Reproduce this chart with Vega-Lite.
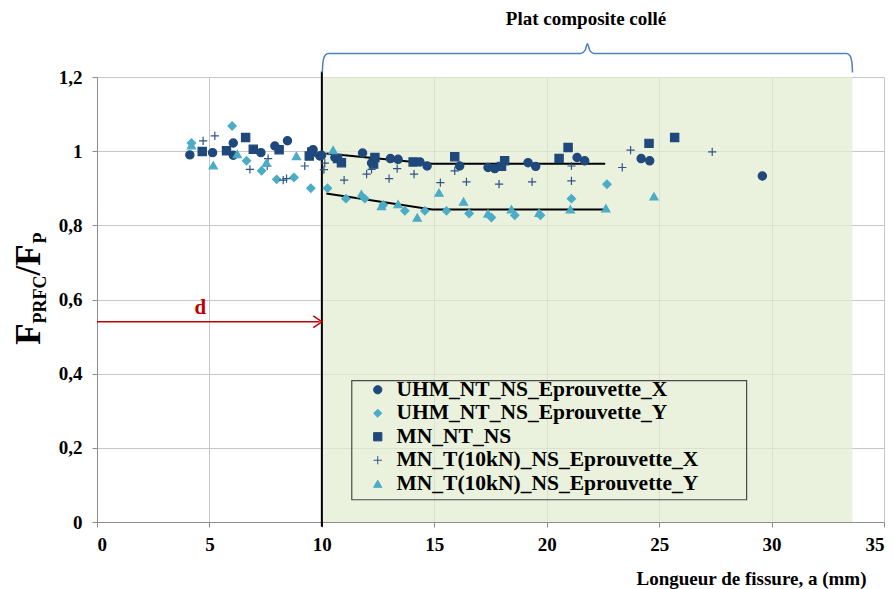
{
  "$schema": "https://vega.github.io/schema/vega-lite/v6.json",
  "width": 787,
  "height": 445,
  "autosize": {"type": "none"},
  "padding": {"left": 97, "top": 77, "right": 9, "bottom": 67},
  "background": "white",
  "config": {
    "view": {"stroke": null},
    "axis": {
      "labelFont": "Liberation Serif", "labelFontSize": 19, "labelFontWeight": "bold", "labelColor": "#000000",
      "gridColor": "#c6c6c6", "gridWidth": 1, "domainColor": "#8c8c8c", "tickColor": "#8c8c8c", "tickSize": 5,
      "titleFont": "Liberation Serif", "titleFontSize": 19, "titleFontWeight": "bold", "titleColor": "#000000"
    },
    "legend": {
      "labelFont": "Liberation Serif", "labelFontSize": 21.5, "labelFontWeight": "bold", "labelColor": "#000000", "labelLimit": 600
    }
  },
  "datasets": {
    "points": [
      {"s": "UHM_NT_NS_Eprouvette_X", "a": 4.13, "r": 0.99},
      {"s": "UHM_NT_NS_Eprouvette_X", "a": 5.14, "r": 0.996},
      {"s": "UHM_NT_NS_Eprouvette_X", "a": 6.06, "r": 1.022},
      {"s": "UHM_NT_NS_Eprouvette_X", "a": 6.06, "r": 0.989},
      {"s": "UHM_NT_NS_Eprouvette_X", "a": 7.29, "r": 0.996},
      {"s": "UHM_NT_NS_Eprouvette_X", "a": 7.91, "r": 1.014},
      {"s": "UHM_NT_NS_Eprouvette_X", "a": 8.47, "r": 1.028},
      {"s": "UHM_NT_NS_Eprouvette_X", "a": 9.61, "r": 1.004},
      {"s": "UHM_NT_NS_Eprouvette_X", "a": 9.91, "r": 0.987},
      {"s": "UHM_NT_NS_Eprouvette_X", "a": 9.99, "r": 0.989},
      {"s": "UHM_NT_NS_Eprouvette_X", "a": 10.58, "r": 0.983},
      {"s": "UHM_NT_NS_Eprouvette_X", "a": 11.81, "r": 0.995},
      {"s": "UHM_NT_NS_Eprouvette_X", "a": 12.21, "r": 0.968},
      {"s": "UHM_NT_NS_Eprouvette_X", "a": 13.05, "r": 0.98},
      {"s": "UHM_NT_NS_Eprouvette_X", "a": 13.39, "r": 0.978},
      {"s": "UHM_NT_NS_Eprouvette_X", "a": 14.36, "r": 0.971},
      {"s": "UHM_NT_NS_Eprouvette_X", "a": 14.68, "r": 0.96},
      {"s": "UHM_NT_NS_Eprouvette_X", "a": 16.13, "r": 0.96},
      {"s": "UHM_NT_NS_Eprouvette_X", "a": 17.39, "r": 0.956},
      {"s": "UHM_NT_NS_Eprouvette_X", "a": 17.69, "r": 0.953},
      {"s": "UHM_NT_NS_Eprouvette_X", "a": 19.17, "r": 0.969},
      {"s": "UHM_NT_NS_Eprouvette_X", "a": 19.51, "r": 0.959},
      {"s": "UHM_NT_NS_Eprouvette_X", "a": 21.35, "r": 0.983},
      {"s": "UHM_NT_NS_Eprouvette_X", "a": 21.69, "r": 0.974},
      {"s": "UHM_NT_NS_Eprouvette_X", "a": 24.2, "r": 0.98},
      {"s": "UHM_NT_NS_Eprouvette_X", "a": 24.58, "r": 0.974},
      {"s": "UHM_NT_NS_Eprouvette_X", "a": 29.59, "r": 0.933},
      {"s": "UHM_NT_NS_Eprouvette_Y", "a": 4.2, "r": 1.022},
      {"s": "UHM_NT_NS_Eprouvette_Y", "a": 6.01, "r": 1.068},
      {"s": "UHM_NT_NS_Eprouvette_Y", "a": 6.65, "r": 0.974},
      {"s": "UHM_NT_NS_Eprouvette_Y", "a": 7.32, "r": 0.947},
      {"s": "UHM_NT_NS_Eprouvette_Y", "a": 7.99, "r": 0.924},
      {"s": "UHM_NT_NS_Eprouvette_Y", "a": 8.76, "r": 0.929},
      {"s": "UHM_NT_NS_Eprouvette_Y", "a": 9.51, "r": 0.9},
      {"s": "UHM_NT_NS_Eprouvette_Y", "a": 10.25, "r": 0.9},
      {"s": "UHM_NT_NS_Eprouvette_Y", "a": 11.07, "r": 0.872},
      {"s": "UHM_NT_NS_Eprouvette_Y", "a": 11.91, "r": 0.872},
      {"s": "UHM_NT_NS_Eprouvette_Y", "a": 12.73, "r": 0.855},
      {"s": "UHM_NT_NS_Eprouvette_Y", "a": 13.69, "r": 0.839},
      {"s": "UHM_NT_NS_Eprouvette_Y", "a": 14.58, "r": 0.839},
      {"s": "UHM_NT_NS_Eprouvette_Y", "a": 15.54, "r": 0.839},
      {"s": "UHM_NT_NS_Eprouvette_Y", "a": 16.55, "r": 0.832},
      {"s": "UHM_NT_NS_Eprouvette_Y", "a": 17.54, "r": 0.821},
      {"s": "UHM_NT_NS_Eprouvette_Y", "a": 18.58, "r": 0.827},
      {"s": "UHM_NT_NS_Eprouvette_Y", "a": 19.72, "r": 0.827},
      {"s": "UHM_NT_NS_Eprouvette_Y", "a": 21.1, "r": 0.872},
      {"s": "UHM_NT_NS_Eprouvette_Y", "a": 22.68, "r": 0.911},
      {"s": "MN_NT_NS", "a": 4.68, "r": 0.999},
      {"s": "MN_NT_NS", "a": 5.76, "r": 1.001},
      {"s": "MN_NT_NS", "a": 6.61, "r": 1.037},
      {"s": "MN_NT_NS", "a": 6.95, "r": 1.005},
      {"s": "MN_NT_NS", "a": 8.1, "r": 1.004},
      {"s": "MN_NT_NS", "a": 9.44, "r": 0.987},
      {"s": "MN_NT_NS", "a": 9.55, "r": 0.998},
      {"s": "MN_NT_NS", "a": 10.7, "r": 0.98},
      {"s": "MN_NT_NS", "a": 10.87, "r": 0.969},
      {"s": "MN_NT_NS", "a": 12.36, "r": 0.983},
      {"s": "MN_NT_NS", "a": 12.3, "r": 0.965},
      {"s": "MN_NT_NS", "a": 14.06, "r": 0.971},
      {"s": "MN_NT_NS", "a": 15.91, "r": 0.985},
      {"s": "MN_NT_NS", "a": 17.99, "r": 0.959},
      {"s": "MN_NT_NS", "a": 18.13, "r": 0.974},
      {"s": "MN_NT_NS", "a": 20.55, "r": 0.98},
      {"s": "MN_NT_NS", "a": 20.95, "r": 1.01},
      {"s": "MN_NT_NS", "a": 24.55, "r": 1.021},
      {"s": "MN_NT_NS", "a": 25.69, "r": 1.037},
      {"s": "MN_T(10kN)_NS_Eprouvette_X", "a": 4.72, "r": 1.028},
      {"s": "MN_T(10kN)_NS_Eprouvette_X", "a": 5.24, "r": 1.041},
      {"s": "MN_T(10kN)_NS_Eprouvette_X", "a": 6.8, "r": 0.951},
      {"s": "MN_T(10kN)_NS_Eprouvette_X", "a": 7.57, "r": 0.96},
      {"s": "MN_T(10kN)_NS_Eprouvette_X", "a": 7.61, "r": 0.98},
      {"s": "MN_T(10kN)_NS_Eprouvette_X", "a": 8.28, "r": 0.922},
      {"s": "MN_T(10kN)_NS_Eprouvette_X", "a": 8.43, "r": 0.926},
      {"s": "MN_T(10kN)_NS_Eprouvette_X", "a": 9.24, "r": 0.96},
      {"s": "MN_T(10kN)_NS_Eprouvette_X", "a": 10.09, "r": 0.95},
      {"s": "MN_T(10kN)_NS_Eprouvette_X", "a": 10.13, "r": 0.968},
      {"s": "MN_T(10kN)_NS_Eprouvette_X", "a": 10.99, "r": 0.922},
      {"s": "MN_T(10kN)_NS_Eprouvette_X", "a": 11.99, "r": 0.938},
      {"s": "MN_T(10kN)_NS_Eprouvette_X", "a": 12.21, "r": 0.951},
      {"s": "MN_T(10kN)_NS_Eprouvette_X", "a": 12.99, "r": 0.926},
      {"s": "MN_T(10kN)_NS_Eprouvette_X", "a": 13.35, "r": 0.953},
      {"s": "MN_T(10kN)_NS_Eprouvette_X", "a": 14.1, "r": 0.938},
      {"s": "MN_T(10kN)_NS_Eprouvette_X", "a": 15.27, "r": 0.915},
      {"s": "MN_T(10kN)_NS_Eprouvette_X", "a": 15.91, "r": 0.947},
      {"s": "MN_T(10kN)_NS_Eprouvette_X", "a": 16.43, "r": 0.917},
      {"s": "MN_T(10kN)_NS_Eprouvette_X", "a": 17.88, "r": 0.911},
      {"s": "MN_T(10kN)_NS_Eprouvette_X", "a": 19.35, "r": 0.917},
      {"s": "MN_T(10kN)_NS_Eprouvette_X", "a": 21.1, "r": 0.96},
      {"s": "MN_T(10kN)_NS_Eprouvette_X", "a": 21.1, "r": 0.92},
      {"s": "MN_T(10kN)_NS_Eprouvette_X", "a": 23.36, "r": 0.956},
      {"s": "MN_T(10kN)_NS_Eprouvette_X", "a": 23.73, "r": 1.003},
      {"s": "MN_T(10kN)_NS_Eprouvette_X", "a": 27.36, "r": 0.998},
      {"s": "MN_T(10kN)_NS_Eprouvette_Y", "a": 4.2, "r": 1.016},
      {"s": "MN_T(10kN)_NS_Eprouvette_Y", "a": 5.17, "r": 0.962},
      {"s": "MN_T(10kN)_NS_Eprouvette_Y", "a": 6.24, "r": 0.992},
      {"s": "MN_T(10kN)_NS_Eprouvette_Y", "a": 7.54, "r": 0.969},
      {"s": "MN_T(10kN)_NS_Eprouvette_Y", "a": 8.87, "r": 0.987},
      {"s": "MN_T(10kN)_NS_Eprouvette_Y", "a": 10.5, "r": 1.003},
      {"s": "MN_T(10kN)_NS_Eprouvette_Y", "a": 11.76, "r": 0.884},
      {"s": "MN_T(10kN)_NS_Eprouvette_Y", "a": 12.65, "r": 0.852},
      {"s": "MN_T(10kN)_NS_Eprouvette_Y", "a": 13.39, "r": 0.857},
      {"s": "MN_T(10kN)_NS_Eprouvette_Y", "a": 14.24, "r": 0.821},
      {"s": "MN_T(10kN)_NS_Eprouvette_Y", "a": 15.21, "r": 0.888},
      {"s": "MN_T(10kN)_NS_Eprouvette_Y", "a": 16.3, "r": 0.864},
      {"s": "MN_T(10kN)_NS_Eprouvette_Y", "a": 17.39, "r": 0.832},
      {"s": "MN_T(10kN)_NS_Eprouvette_Y", "a": 18.43, "r": 0.843},
      {"s": "MN_T(10kN)_NS_Eprouvette_Y", "a": 19.66, "r": 0.834},
      {"s": "MN_T(10kN)_NS_Eprouvette_Y", "a": 21.05, "r": 0.843},
      {"s": "MN_T(10kN)_NS_Eprouvette_Y", "a": 22.63, "r": 0.846},
      {"s": "MN_T(10kN)_NS_Eprouvette_Y", "a": 24.77, "r": 0.878}
    ]
  },
  "layer": [
    {
      "data": {"values": [{"a": 10, "a2": 33.6, "r": 0, "r2": 1.2}]},
      "mark": {"type": "rect", "fill": "#e2ebd0", "opacity": 0.72},
      "encoding": {
        "x": {"field": "a", "type": "quantitative",
          "scale": {"domain": [0, 35], "nice": false, "zero": false},
          "axis": {"values": [0, 5, 10, 15, 20, 25, 30, 35], "grid": true, "labelPadding": 8,
            "title": "Longueur de fissure, a (mm)", "titleAnchor": "end", "titleAlign": "right", "titleX": 769, "titleY": 62, "titleBaseline": "alphabetic"}},
        "x2": {"field": "a2"},
        "y": {"field": "r", "type": "quantitative",
          "scale": {"domain": [0, 1.2], "nice": false, "zero": false},
          "axis": {"values": [0, 0.2, 0.4, 0.6, 0.8, 1, 1.2], "grid": true, "labelPadding": 10, "title": null,
            "labelExpr": "replace(format(datum.value, '.1~f'), '.', ',')"}},
        "y2": {"field": "r2"}
      }
    },
    {
      "data": {"values": [{"a": 11.33, "a2": 28.89, "r": 0.06, "r2": 0.381}]},
      "mark": {"type": "rect", "fill": null, "stroke": "#4a4a4a", "strokeWidth": 1.2},
      "encoding": {
        "x": {"field": "a", "type": "quantitative"},
        "x2": {"field": "a2"},
        "y": {"field": "r", "type": "quantitative"},
        "y2": {"field": "r2"}
      }
    },
    {
      "data": {"values": [{"a": 10, "r": -0.013, "r2": 1.215}]},
      "mark": {"type": "rule", "color": "#000000", "strokeWidth": 2},
      "encoding": {
        "x": {"field": "a", "type": "quantitative"},
        "y": {"field": "r", "type": "quantitative"},
        "y2": {"field": "r2"}
      }
    },
    {
      "data": {"values": [
        {"g": "t1", "a": 10.2, "r": 0.994}, {"g": "t1", "a": 14.9, "r": 0.966}, {"g": "t1", "a": 22.6, "r": 0.966},
        {"g": "t2", "a": 10.2, "r": 0.886}, {"g": "t2", "a": 14.9, "r": 0.843}, {"g": "t2", "a": 22.6, "r": 0.843}
      ]},
      "mark": {"type": "line", "color": "#000000", "strokeWidth": 2},
      "encoding": {
        "x": {"field": "a", "type": "quantitative"},
        "y": {"field": "r", "type": "quantitative"},
        "detail": {"field": "g"}
      }
    },
    {
      "data": {"name": "points"},
      "mark": {"type": "point", "filled": true, "opacity": 1, "strokeWidth": 1.2},
      "encoding": {
        "x": {"field": "a", "type": "quantitative"},
        "y": {"field": "r", "type": "quantitative"},
        "color": {"field": "s", "type": "nominal",
          "scale": {"domain": ["UHM_NT_NS_Eprouvette_X", "UHM_NT_NS_Eprouvette_Y", "MN_NT_NS", "MN_T(10kN)_NS_Eprouvette_X", "MN_T(10kN)_NS_Eprouvette_Y"],
            "range": ["#1f487c", "#4bacc6", "#1f487c", "#2f5486", "#4bacc6"]},
          "legend": {"title": null, "orient": "none", "legendX": 270, "legendY": 302, "padding": 0, "rowPadding": 0.5, "labelOffset": 8,
            "symbolStrokeWidth": 1,
            "encode": {"symbols": {"update": {"size": {"value": 40}}}}}},
        "stroke": {"field": "s", "type": "nominal",
          "scale": {"domain": ["UHM_NT_NS_Eprouvette_X", "UHM_NT_NS_Eprouvette_Y", "MN_NT_NS", "MN_T(10kN)_NS_Eprouvette_X", "MN_T(10kN)_NS_Eprouvette_Y"],
            "range": ["#1f487c", "#4bacc6", "#1f487c", "#2f5486", "#4bacc6"]}},
        "shape": {"field": "s", "type": "nominal",
          "scale": {"domain": ["UHM_NT_NS_Eprouvette_X", "UHM_NT_NS_Eprouvette_Y", "MN_NT_NS", "MN_T(10kN)_NS_Eprouvette_X", "MN_T(10kN)_NS_Eprouvette_Y"],
            "range": ["circle", "diamond", "square", "M-1,0L1,0M0,-1L0,1", "triangle-up"]}},
        "size": {"field": "s", "type": "nominal",
          "scale": {"domain": ["UHM_NT_NS_Eprouvette_X", "UHM_NT_NS_Eprouvette_Y", "MN_NT_NS", "MN_T(10kN)_NS_Eprouvette_X", "MN_T(10kN)_NS_Eprouvette_Y"],
            "range": [68, 68, 95, 105, 80]}}
      }
    },
    {
      "data": {"values": [{"a": 0, "a2": 9.9, "r": 0.54}]},
      "mark": {"type": "rule", "color": "#c00000", "strokeWidth": 1.5},
      "encoding": {
        "x": {"field": "a", "type": "quantitative"},
        "x2": {"field": "a2"},
        "y": {"field": "r", "type": "quantitative"}
      }
    },
    {
      "data": {"values": [{"o": 1, "a": 9.62, "r": 0.556}, {"o": 2, "a": 10, "r": 0.54}, {"o": 3, "a": 9.62, "r": 0.524}]},
      "mark": {"type": "line", "color": "#c00000", "strokeWidth": 1.5},
      "encoding": {
        "x": {"field": "a", "type": "quantitative"},
        "y": {"field": "r", "type": "quantitative"},
        "order": {"field": "o"}
      }
    },
    {
      "data": {"values": [{"a": 4.6, "r": 0.578, "t": "d"}]},
      "mark": {"type": "text", "color": "#c00000", "font": "Liberation Serif", "fontSize": 21, "fontWeight": "bold", "baseline": "middle", "align": "center"},
      "encoding": {
        "x": {"field": "a", "type": "quantitative"},
        "y": {"field": "r", "type": "quantitative"},
        "text": {"field": "t"}
      }
    },
    {
      "data": {"values": [
        {"o": 1, "a": 10.02, "r": 1.212}, {"o": 2, "a": 10.05, "r": 1.24}, {"o": 3, "a": 10.12, "r": 1.256},
        {"o": 4, "a": 10.28, "r": 1.2635}, {"o": 5, "a": 21.52, "r": 1.2635}, {"o": 6, "a": 21.7, "r": 1.271},
        {"o": 7, "a": 21.81, "r": 1.29}, {"o": 8, "a": 21.92, "r": 1.271}, {"o": 9, "a": 22.1, "r": 1.2635},
        {"o": 10, "a": 33.34, "r": 1.2635}, {"o": 11, "a": 33.5, "r": 1.256}, {"o": 12, "a": 33.57, "r": 1.24},
        {"o": 13, "a": 33.6, "r": 1.212}
      ]},
      "mark": {"type": "line", "color": "#4f81bd", "strokeWidth": 1.5, "interpolate": "monotone"},
      "encoding": {
        "x": {"field": "a", "type": "quantitative"},
        "y": {"field": "r", "type": "quantitative"},
        "order": {"field": "o"}
      }
    },
    {
      "data": {"values": [{"a": 21.75, "r": 1.357, "t": "Plat composite collé"}]},
      "mark": {"type": "text", "color": "#000000", "font": "Liberation Serif", "fontSize": 19, "fontWeight": "bold", "baseline": "middle", "align": "center"},
      "encoding": {
        "x": {"field": "a", "type": "quantitative"},
        "y": {"field": "r", "type": "quantitative"},
        "text": {"field": "t"}
      }
    },
    {
      "data": {"values": [{"a": -2.53, "r": 0.478, "t": "F"}, {"a": -2.53, "r": 0.665, "t": "/F"}]},
      "mark": {"type": "text", "color": "#000000", "font": "Liberation Serif", "fontSize": 35, "fontWeight": "bold", "baseline": "alphabetic", "align": "left", "angle": 270},
      "encoding": {
        "x": {"field": "a", "type": "quantitative"},
        "y": {"field": "r", "type": "quantitative"},
        "text": {"field": "t"}
      }
    },
    {
      "data": {"values": [{"a": -2.25, "r": 0.535, "t": "PRFC"}, {"a": -2.25, "r": 0.751, "t": "P"}]},
      "mark": {"type": "text", "color": "#000000", "font": "Liberation Serif", "fontSize": 18, "fontWeight": "bold", "baseline": "alphabetic", "align": "left", "angle": 270},
      "encoding": {
        "x": {"field": "a", "type": "quantitative"},
        "y": {"field": "r", "type": "quantitative"},
        "text": {"field": "t"}
      }
    }
  ]
}
